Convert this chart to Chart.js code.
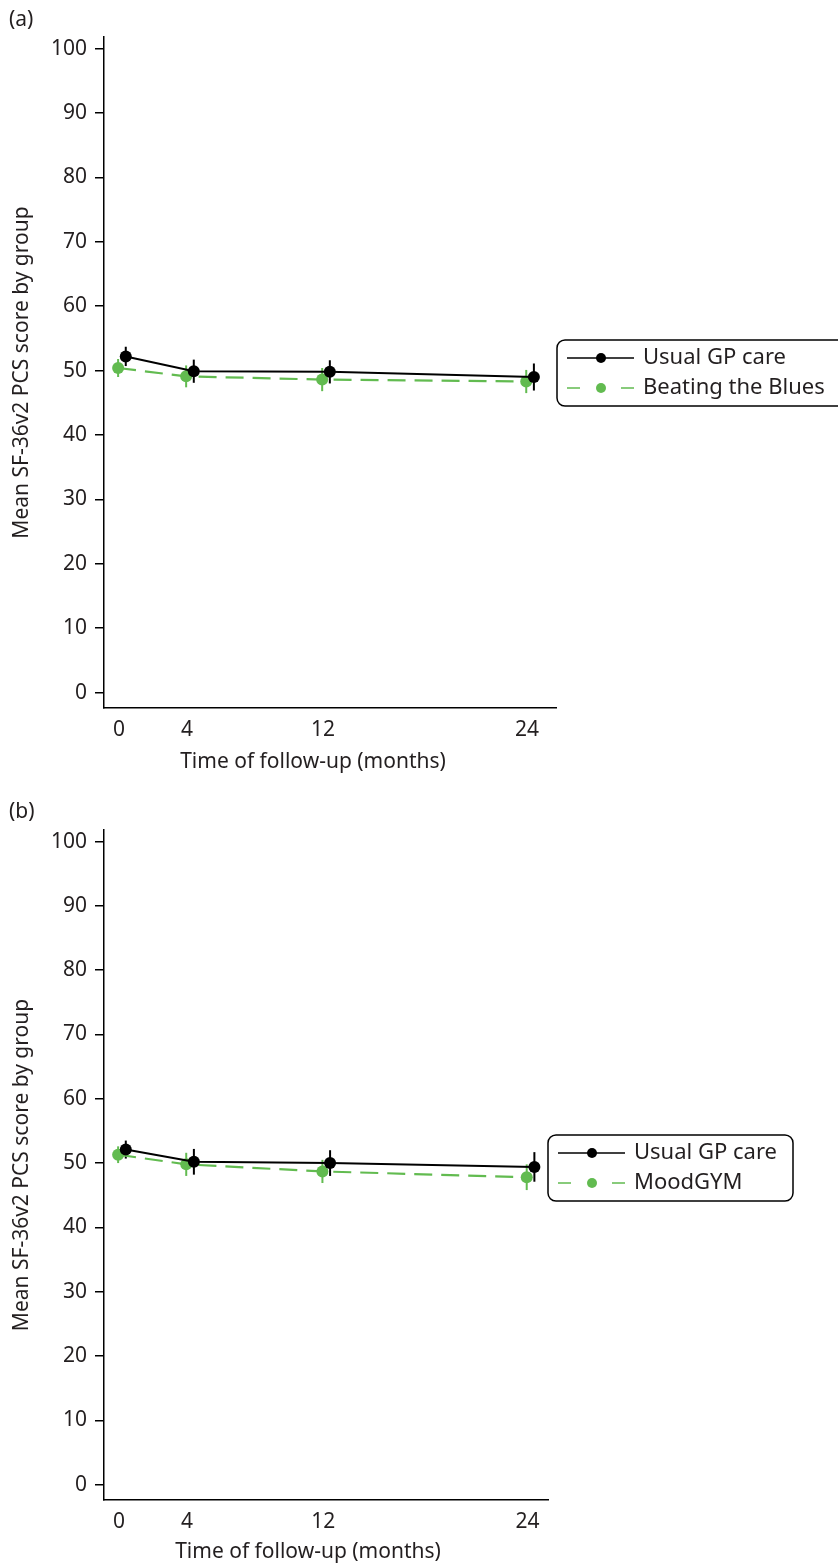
<!DOCTYPE html>
<html>
<head>
<meta charset="utf-8">
<title>SF-36v2 PCS by group</title>
<script src="https://cdn.jsdelivr.net/npm/chart.js@4.4.0/dist/chart.umd.min.js"></script>
<style>
  body { margin: 0; width: 838px; height: 1566px; overflow: hidden; background: #fff; position: relative; }
  .panel { position: absolute; left: 0; width: 838px; height: 790px; }
  .tag { position: absolute; left: 9px; font: 21px "Noto Sans"; color: #231f20; }
  .xtitle { position: absolute; width: 400px; text-align: center; line-height: 25px;
            font: 21px "Noto Sans"; color: #231f20; }
</style>
</head>
<body>
<div class="panel" style="top:0"><canvas id="chartA" width="838" height="790"></canvas></div>
<div class="panel" style="top:792px"><canvas id="chartB" width="838" height="790"></canvas></div>
<div class="tag" style="top:4px">(a)</div>
<div class="tag" style="top:796px">(b)</div>
<div class="xtitle" style="left:113px; top:746px">Time of follow-up (months)</div>
<div class="xtitle" style="left:108px; top:1536px">Time of follow-up (months)</div>
<script>
// follow-up times and axis ticks
var months = [0, 4, 12, 24];
var monthTicks = [0, 4, 12, 24];
var scoreTicks = [0, 10, 20, 30, 40, 50, 60, 70, 80, 90, 100];

// (a) usual GP care vs Beating the Blues: mean and half-width of the error bar
var usualCareA = [52.2, 49.9, 49.8, 49.0];
var usualCareErrA = [1.5, 1.8, 1.8, 2.1];
var beatingBluesA = [50.4, 49.1, 48.6, 48.3];
var beatingBluesErrA = [1.4, 1.7, 1.8, 1.8];

// (b) usual GP care vs MoodGYM
var usualCareB = [52.1, 50.2, 50.0, 49.4];
var usualCareErrB = [1.4, 2.0, 2.0, 2.3];
var moodGymB = [51.3, 49.8, 48.7, 47.8];
var moodGymErrB = [1.3, 1.8, 1.8, 2.0];

var FONT = '"Noto Sans", "Open Sans", sans-serif';
var INK = '#231f20';
var GREEN = '#62bb50';
var AXIS_FONT = { size: 21, family: FONT };

// groups are nudged sideways so the error bars don't sit on top of each other
function points(values, shift) {
  return values.map(function (v, i) { return { x: months[i] + shift, y: v }; });
}

function usualSet(values, errors) {
  return {
    label: 'Usual GP care', data: points(values, 0.4), errors: errors,
    borderColor: '#000', backgroundColor: '#000', borderWidth: 2,
    pointRadius: 6, pointHoverRadius: 6, pointBorderWidth: 0
  };
}

function armSet(label, values, errors) {
  return {
    label: label, data: points(values, -0.05), errors: errors,
    borderColor: GREEN, backgroundColor: GREEN, borderWidth: 2.2, borderDash: [18, 9],
    pointRadius: 6, pointHoverRadius: 6, pointBorderWidth: 0
  };
}

var errorBars = {
  id: 'errorBars',
  beforeDatasetsDraw: function (chart) {
    var ctx = chart.ctx, x = chart.scales.x, y = chart.scales.y;
    chart.data.datasets.forEach(function (ds) {
      ctx.save();
      ctx.strokeStyle = ds.borderColor;
      ctx.lineWidth = 2;
      ds.data.forEach(function (p, i) {
        var px = x.getPixelForValue(p.x);
        ctx.beginPath();
        ctx.moveTo(px, y.getPixelForValue(p.y - ds.errors[i]));
        ctx.lineTo(px, y.getPixelForValue(p.y + ds.errors[i]));
        ctx.stroke();
      });
      ctx.restore();
    });
  }
};

// boxed legend to the right of the plot
function boxLegend(left, top, right) {
  return {
    id: 'boxLegend',
    afterDraw: function (chart) {
      var ctx = chart.ctx;
      ctx.save();
      ctx.strokeStyle = '#000';
      ctx.lineWidth = 1.5;
      ctx.beginPath();
      ctx.roundRect(left, top, right - left, 66, 8);
      ctx.stroke();
      chart.data.datasets.forEach(function (ds, i) {
        var ly = top + 18 + i * 30;
        ctx.strokeStyle = ds.borderColor;
        ctx.lineWidth = 1.5;
        ctx.beginPath();
        if (ds.borderDash) {
          ctx.moveTo(left + 10, ly); ctx.lineTo(left + 23, ly);
          ctx.moveTo(left + 64, ly); ctx.lineTo(left + 77, ly);
        } else {
          ctx.moveTo(left + 10, ly); ctx.lineTo(left + 77, ly);
        }
        ctx.stroke();
        ctx.fillStyle = ds.backgroundColor;
        ctx.beginPath();
        ctx.arc(left + 44, ly, 5, 0, Math.PI * 2);
        ctx.fill();
        ctx.fillStyle = INK;
        ctx.font = '22px ' + FONT;
        ctx.textBaseline = 'middle';
        ctx.fillText(ds.label, left + 86, ly);
      });
      ctx.restore();
    }
  };
}

function makeChart(id, datasets, xMax, padTop, padRight, legend) {
  return new Chart(document.getElementById(id), {
    type: 'line',
    data: { datasets: datasets },
    options: {
      responsive: false,
      animation: false,
      layout: { padding: { top: padTop, right: padRight, left: 0, bottom: 0 } },
      plugins: { legend: { display: false }, tooltip: { enabled: false } },
      scales: {
        x: {
          type: 'linear', min: -0.88, max: xMax,
          afterBuildTicks: function (axis) { axis.ticks = monthTicks.map(function (v) { return { value: v }; }); },
          afterFit: function (axis) { axis.height = 82; },
          border: { color: '#000', width: 1.5 },
          grid: { display: false, drawTicks: false },
          ticks: { padding: 9, color: INK, font: AXIS_FONT, maxRotation: 0 }
        },
        y: {
          min: -2.4, max: 101.8,
          afterBuildTicks: function (axis) { axis.ticks = scoreTicks.map(function (v) { return { value: v }; }); },
          afterFit: function (axis) { axis.width = 104; },
          border: { color: '#000', width: 1.5 },
          grid: { drawOnChartArea: false, tickLength: 9, color: '#000', lineWidth: 1.5 },
          ticks: { padding: 8, color: INK, font: AXIS_FONT },
          title: { display: true, text: 'Mean SF-36v2 PCS score by group', color: INK,
                   font: AXIS_FONT, padding: { top: 9, bottom: 0 } }
        }
      }
    },
    plugins: [errorBars, legend]
  });
}

makeChart('chartA',
  [usualSet(usualCareA, usualCareErrA), armSet('Beating the Blues', beatingBluesA, beatingBluesErrA)],
  25.7, 37, 282, boxLegend(557, 340, 848));

makeChart('chartB',
  [usualSet(usualCareB, usualCareErrB), armSet('MoodGYM', moodGymB, moodGymErrB)],
  25.2, 38, 290, boxLegend(548, 343, 793));
</script>
</body>
</html>
